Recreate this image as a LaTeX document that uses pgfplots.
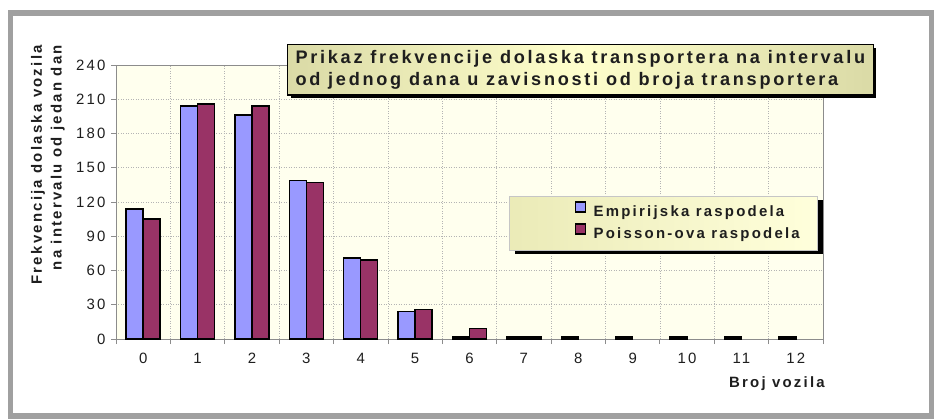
\documentclass[border=0pt]{standalone}
\usepackage{pgfplots}
\pgfplotsset{compat=1.18}
\usepackage{fontspec}
\setmainfont{Liberation Sans}
\newfontfamily\spfont[LetterSpace=15]{Liberation Sans}
\usetikzlibrary{shadows}
\definecolor{empblue}{HTML}{9999FF}
\definecolor{poism}{HTML}{993366}
\definecolor{plotbg}{HTML}{FFFFEE}
\definecolor{boxlight}{HTML}{FFFFCC}
\definecolor{boxdark}{HTML}{DADAA6}
\definecolor{framegray}{HTML}{A0A0A0}
\definecolor{gridgray}{HTML}{B4B4B4}
\definecolor{axisgray}{HTML}{8C8C8C}
\definecolor{txt}{HTML}{1E1E1E}

\pgfplotstableread{
x y
0 114
1 204
2 196
3 139
4 71
5 24
6 1.6
7 1.6
8 1.6
9 1.6
10 1.6
11 1.6
12 1.6
}\emp
\pgfplotstableread{
x y
0 105
1 206
2 204
3 137
4 69
5 26
6 9
7 1.6
}\pois

\begin{document}
\begin{tikzpicture}[x=1bp,y=1bp]
\useasboundingbox (-116,-80) rectangle (819,339);
\draw[framegray, line width=5.5bp] (-105.25,326) rectangle (815.5,-77);
\begin{axis}[
  at={(0,0)}, anchor=south west,
  scale only axis, width=707bp, height=274bp,
  xmin=-0.5, xmax=12.5, ymin=0, ymax=240,
  ybar=0pt, bar width=17bp,
  axis background/.style={fill=plotbg},
  axis line style={axisgray, line width=0.8bp},
  xtick={0,1,...,12},
  ytick={0,30,...,240},
  minor xtick={-0.5,0.5,...,12.5},
  minor ytick={0,30,...,240},
  tick align=outside, major tick length=0bp, minor tick length=5bp,
  tick style={axisgray, line width=0.8bp},
  xtick pos=bottom, ytick pos=left,
  ymajorgrids, xminorgrids,
  major grid style={gridgray, line width=0.7bp, dash pattern=on 1bp off 1.5bp},
  minor grid style={gridgray, line width=0.7bp, dash pattern=on 1bp off 1.5bp},
  /pgf/number format/assume math mode=true,
  tick label style={font=\spfont\fontsize{15}{16}\selectfont, text=txt},
  xticklabel style={yshift=-11bp},
  yticklabel style={xshift=-7bp},
  legend cell align=left,
  legend style={at={(0.5559,0.4233)}, anchor=west,
    draw=none, fill=none,
    inner xsep=5bp, inner ysep=0bp,
    column sep=5bp,
    nodes={inner xsep=2.5bp, inner ysep=4bp, text height=11bp, text depth=3bp},
    font=\spfont\bfseries\fontsize{15}{18}\selectfont, text=txt},
]
\addplot+[fill=empblue, draw=black, line width=1.5bp,
  legend image code/.code={\path (-60.5bp,0bp); \draw[fill=empblue, draw=black, line width=1.3bp] (0bp,0bp) rectangle (10bp,10bp);}]
  table[x=x,y=y]{\emp};
\addlegendentry{Empirijska raspodela}
\addplot+[fill=poism, draw=black, line width=1.5bp,
  legend image code/.code={\path (-60.5bp,0bp); \draw[fill=poism, draw=black, line width=1.3bp] (0bp,0bp) rectangle (10bp,10bp);}]
  table[x=x,y=y]{\pois};
\addlegendentry{Poisson-ova raspodela}
% legend box (drawn before the legend)
\fill[black] ([xshift=6bp,yshift=-4bp]rel axis cs:0.5559,0.5219) rectangle ([xshift=6bp,yshift=-4bp]rel axis cs:0.9915,0.3248);
\shade[left color=boxdark!55!boxlight, right color=boxlight!70!white] (rel axis cs:0.5559,0.5219) rectangle (rel axis cs:0.9915,0.3248);
\draw[gray!45, line width=0.8bp] (rel axis cs:0.5559,0.5219) rectangle (rel axis cs:0.9915,0.3248);
\end{axis}
% title box
\node[anchor=north west, align=left, inner xsep=8bp, inner ysep=5.5bp,
  left color=boxdark, right color=boxdark, middle color=boxlight,
  draw=black, line width=1.2bp,
  general shadow={fill=black, shadow xshift=3bp, shadow yshift=-3bp},
  font=\spfont\bfseries\fontsize{18.2}{22.5}\selectfont, text=txt]
  at (171,295) {Prikaz frekvencije dolaska transportera na intervalu\\od jednog dana u zavisnosti od broja transportera};
% y label
\node[rotate=90, anchor=south east, align=right, inner sep=0pt,
  font=\spfont\bfseries\fontsize{15}{20}\selectfont, text=txt]
  at (-51,294) {Frekvencija dolaska vozila\\na intervalu od jedan dan};
% x label
\node[anchor=east, inner sep=0pt, font=\spfont\bfseries\fontsize{15}{18}\selectfont, text=txt]
  at (709,-45) {Broj vozila};
\end{tikzpicture}
\end{document}
